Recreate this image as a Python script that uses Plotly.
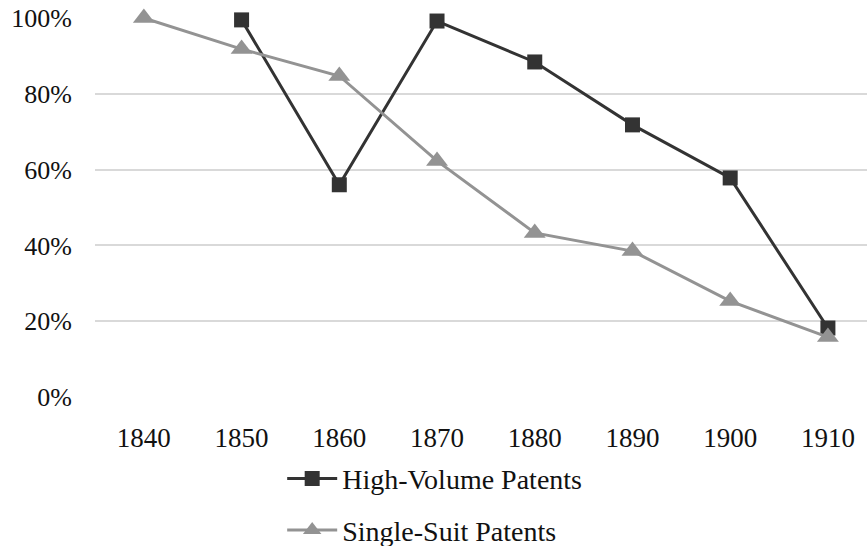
import plotly.graph_objects as go

years = ["1840", "1850", "1860", "1870", "1880", "1890", "1900", "1910"]
high_volume = [None, 99.5, 56.0, 99.2, 88.4, 71.8, 57.8, 18.2]
single_suit = [100.0, 91.8, 84.7, 62.3, 43.3, 38.5, 25.3, 15.8]
y_ticks = [0, 20, 40, 60, 80, 100]
y_tick_labels = ["0%", "20%", "40%", "60%", "80%", "100%"]

FONT = "Liberation Serif"

fig = go.Figure()
fig.add_trace(go.Scatter(
    x=years, y=high_volume, name="High-Volume Patents", mode="lines+markers",
    line=dict(color="#333333", width=3),
    marker=dict(symbol="square", size=15, color="#333333"),
    legendgroup="a", cliponaxis=False, connectgaps=False,
))
fig.add_trace(go.Scatter(
    x=years, y=single_suit, name="Single-Suit Patents", mode="lines+markers",
    line=dict(color="#939393", width=3),
    marker=dict(symbol="triangle-up", size=19, color="#939393"),
    legendgroup="b", cliponaxis=False,
))

fig.update_layout(
    width=867, height=546,
    margin=dict(l=95, r=0, t=18, b=149, autoexpand=False),
    paper_bgcolor="white", plot_bgcolor="white",
    font=dict(family=FONT, size=27, color="#111111"),
    showlegend=True,
    legend=dict(
        orientation="v", x=0.44, xanchor="center", y=-0.15, yanchor="top",
        font=dict(family=FONT, size=28, color="#111111"),
        tracegroupgap=12, itemwidth=50,
    ),
    xaxis=dict(
        type="category", range=[-0.5, 7.4], showgrid=False, zeroline=False,
        showline=False, ticks="", tickfont=dict(size=27), ticklabelstandoff=22,
        automargin=False, ticklabeloverflow="allow",
    ),
    yaxis=dict(
        range=[0, 100], tickvals=y_ticks, ticktext=y_tick_labels,
        showgrid=True, gridcolor="#d9d9d9", gridwidth=1.5, zeroline=False,
        showline=False, ticks="", tickfont=dict(size=26), ticklabelstandoff=22,
        automargin=False, ticklabeloverflow="allow",
    ),
)

fig.write_html(
    "out.html",
    config={"displayModeBar": False},
    post_script="document.body.style.margin='0';",
)
